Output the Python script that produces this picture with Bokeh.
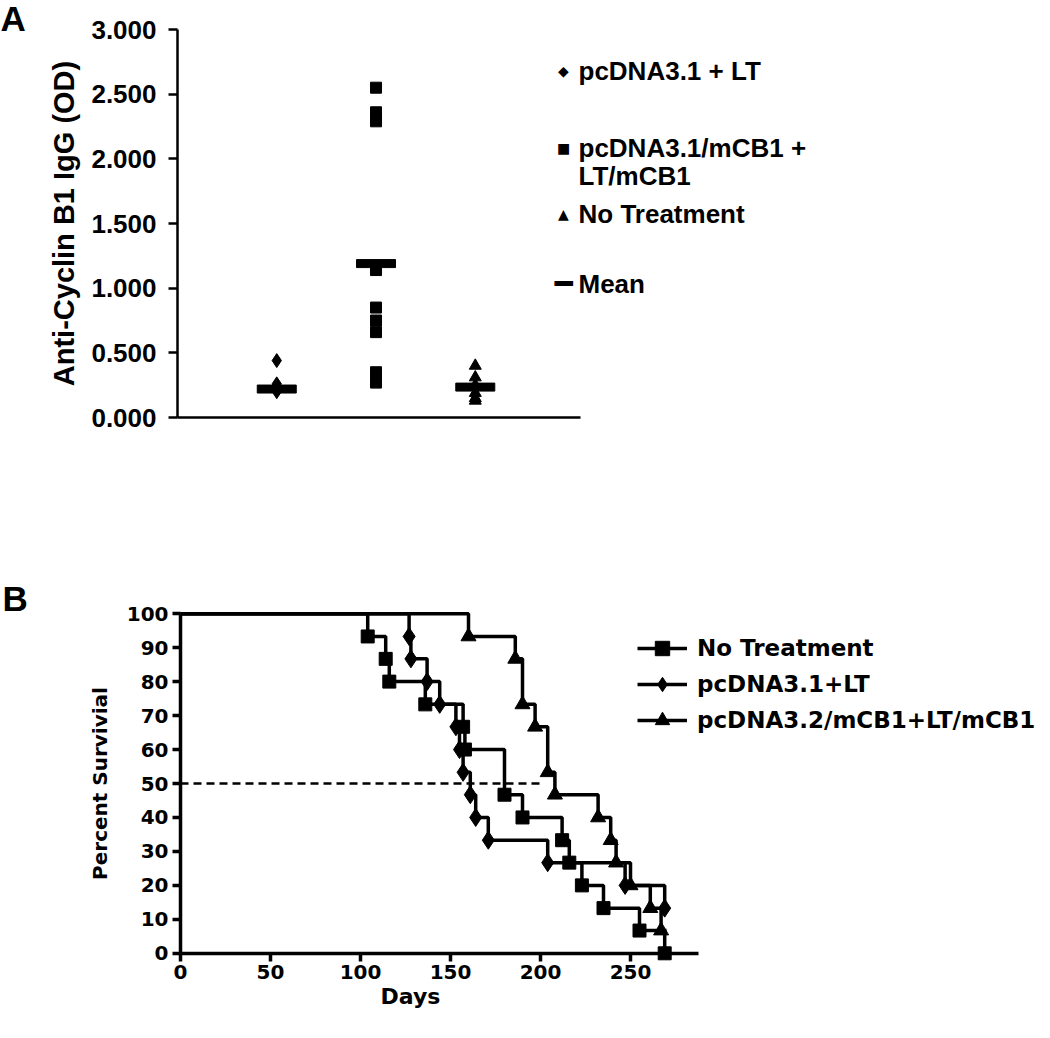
from bokeh.plotting import figure
from bokeh.layouts import column
from bokeh.models import Range1d, FixedTicker, Label, Legend, LegendItem, PrintfTickFormatter
from bokeh.embed import file_html
from bokeh.resources import INLINE

# ---------------- Panel A data ----------------
group_pos = [1, 2, 3]
od_lt = [0.44, 0.26, 0.23, 0.21, 0.20]
od_mcb1 = [2.55, 2.36, 2.29, 1.14, 0.85, 0.75, 0.66, 0.35, 0.27]
od_none = [0.40, 0.31, 0.25, 0.19, 0.15, 0.13]
od_means = [0.22, 1.19, 0.235]
a_yticks = [0.0, 0.5, 1.0, 1.5, 2.0, 2.5, 3.0]
a_legend = ["pcDNA3.1 + LT", "pcDNA3.1/mCB1 +", "LT/mCB1", "No Treatment", "Mean"]

# ---------------- Panel B data ----------------
days_none = [104, 114, 116, 136, 157, 158, 180, 190, 212, 216, 223, 235, 255, 269]
surv_none = [93.3, 86.7, 80.0, 73.3, 66.7, 60.0, 46.7, 40.0, 33.3, 26.7, 20.0, 13.3, 6.7, 0.0]
days_lt = [127, 128, 137, 144, 153, 155, 157, 161, 164, 171, 204, 247, 269]
surv_lt = [93.3, 86.7, 80.0, 73.3, 66.7, 60.0, 53.3, 46.7, 40.0, 33.3, 26.7, 20.0, 13.3]
days_mcb1 = [160, 186, 190, 197, 204, 208, 232, 239, 242, 250, 261, 267]
surv_mcb1 = [93.3, 86.7, 73.3, 66.7, 53.3, 46.7, 40.0, 33.3, 26.7, 20.0, 13.3, 6.7]
end_day = 270
b_xticks = [0, 50, 100, 150, 200, 250]
b_yticks = [0, 10, 20, 30, 40, 50, 60, 70, 80, 90, 100]
b_names = ["No Treatment", "pcDNA3.1+LT", "pcDNA3.2/mCB1+LT/mCB1"]

FONT = "Liberation Sans"
FONT_B = "DejaVu Sans"
W = 1040
HA = 520
HB = 510

# ================= Panel A =================
A_X0, A_PXU = 177.0, 403 / 4.06
A_Y0, A_PYU = 417.0, 388 / 3.0
def ax_(px):
    return (px - A_X0) / A_PXU
def ay_(py):
    return (A_Y0 - py) / A_PYU

pa = figure(width=W, height=HA, output_backend="svg", toolbar_location=None, min_border=0,
            x_range=Range1d(ax_(0), ax_(W)), y_range=Range1d(ay_(HA), ay_(0)))
pa.outline_line_color = None
pa.grid.visible = False

pa.xaxis.fixed_location = 0
pa.yaxis.fixed_location = 0
pa.xaxis.bounds = (0, 4.06)
pa.yaxis.bounds = (0, 3.0)
pa.yaxis.ticker = FixedTicker(ticks=a_yticks)
pa.yaxis.formatter = PrintfTickFormatter(format="%.3f")
pa.yaxis.axis_label = "Anti-Cyclin B1 IgG (OD)"
pa.xaxis.ticker = FixedTicker(ticks=[])
for ax in (pa.xaxis, pa.yaxis):
    ax.axis_line_width = 2.5
    ax.axis_line_color = "black"
    ax.major_tick_line_width = 2.5
    ax.major_tick_out = 9
    ax.major_tick_in = 0
    ax.minor_tick_line_color = None
    ax.major_label_text_font = FONT
    ax.major_label_text_font_style = "bold"
    ax.major_label_text_font_size = "26px"
    ax.major_label_text_color = "black"
    ax.axis_label_text_font = FONT
    ax.axis_label_text_font_style = "bold"
    ax.axis_label_text_font_size = "29px"
    ax.axis_label_text_color = "black"
pa.yaxis.major_label_standoff = 12
pa.yaxis.axis_label_standoff = 8

pa.scatter([group_pos[0]] * len(od_lt), od_lt, marker="diamond", size=14, color="black")
pa.scatter([group_pos[1]] * len(od_mcb1), od_mcb1, marker="square", size=11, color="black")
pa.scatter([group_pos[2]] * len(od_none), od_none, marker="triangle", size=12, color="black")
pa.rect(group_pos, od_means, width=39, height=8, width_units="screen", height_units="screen",
        color="black")

rows_y = [70, 147, 175, 213, 283]
marks = ["\u25C6", "\u25A0", "", "\u25B2", "\u2501"]
for txt, mk, yy in zip(a_legend, marks, rows_y):
    pa.add_layout(Label(x=ax_(578), y=ay_(yy), text=txt, text_font=FONT, text_font_style="bold",
                        text_font_size="26px", text_baseline="middle", text_align="left",
                        text_color="black"))
    if mk:
        pa.add_layout(Label(x=ax_(563), y=ay_(yy), text=mk, text_font="DejaVu Sans",
                            text_font_size="14px" if mk != "\u2501" else "30px",
                            text_baseline="middle", text_align="center", text_color="black"))
pa.add_layout(Label(x=ax_(0), y=ay_(-2), text="A", text_font=FONT, text_font_style="bold",
                    text_font_size="35px", text_baseline="top", text_align="left", text_color="black"))

# ================= Panel B =================
B_X0, B_PXU = 180.0, 1.8
B_Y0, B_PYU = 952.8 - HA, 3.396
def bx_(px):
    return (px - B_X0) / B_PXU
def by_(py):
    return (B_Y0 - py) / B_PYU

pb = figure(width=W, height=HB, output_backend="svg", toolbar_location=None, min_border=0,
            x_range=Range1d(bx_(0), bx_(W)), y_range=Range1d(by_(HB), by_(0)))
pb.outline_line_color = None
pb.grid.visible = False

pb.xaxis.fixed_location = 0
pb.yaxis.fixed_location = 0
pb.xaxis.bounds = (0, 288)
pb.yaxis.bounds = (0, 100)
pb.xaxis.ticker = FixedTicker(ticks=b_xticks)
pb.yaxis.ticker = FixedTicker(ticks=b_yticks)
pb.yaxis.axis_label = "Percent Survivial"
for ax in (pb.xaxis, pb.yaxis):
    ax.axis_line_width = 3.5
    ax.axis_line_color = "black"
    ax.major_tick_line_width = 3.5
    ax.major_tick_out = 8
    ax.major_tick_in = 0
    ax.minor_tick_line_color = None
    ax.major_label_text_font = FONT_B
    ax.major_label_text_font_style = "bold"
    ax.major_label_text_font_size = "20px"
    ax.major_label_text_color = "black"
    ax.axis_label_text_font = FONT_B
    ax.axis_label_text_font_style = "bold"
    ax.axis_label_text_font_size = "20px"
    ax.axis_label_text_color = "black"
pb.yaxis.major_label_standoff = 4
pb.yaxis.axis_label_standoff = 12
pb.xaxis.major_label_standoff = 4

# x-axis title
pb.add_layout(Label(x=bx_(410), y=by_(996 - HA), text="Days", text_font=FONT_B,
                    text_font_style="bold", text_font_size="22px", text_baseline="middle",
                    text_align="center", text_color="black"))

# 50% reference line
pb.line([0, 202], [50, 50], line_dash="8 5", line_width=2.5, color="black")

def km(days, surv):
    xs = [0] + list(days) + [end_day]
    ys = [100.0] + list(surv) + [surv[-1]]
    return xs, ys

xs, ys = km(days_none, surv_none)
l1 = pb.step(xs, ys, mode="after", line_width=3.5, color="black")
s1 = pb.scatter(days_none, surv_none, marker="square", size=13, color="black")
xs, ys = km(days_lt, surv_lt)
l2 = pb.step(xs, ys, mode="after", line_width=3.5, color="black")
s2 = pb.scatter(days_lt, surv_lt, marker="diamond", size=18, color="black")
xs, ys = km(days_mcb1, surv_mcb1)
l3 = pb.step(xs, ys, mode="after", line_width=3.5, color="black")
s3 = pb.scatter(days_mcb1, surv_mcb1, marker="triangle", size=15, color="black")

ROW_H = 36
legend = Legend(items=[LegendItem(label=b_names[0], renderers=[l1, s1]),
                       LegendItem(label=b_names[1], renderers=[l2, s2]),
                       LegendItem(label=b_names[2], renderers=[l3, s3])],
                location=(637, HB - (648 - HA) - ROW_H / 2 - 2 * ROW_H))
legend.glyph_width = 50
legend.glyph_height = ROW_H
legend.label_height = ROW_H
legend.spacing = 0
legend.padding = 0
legend.margin = 0
legend.label_standoff = 10
legend.border_line_color = None
legend.background_fill_alpha = 0
legend.label_text_font = FONT_B
legend.label_text_font_style = "bold"
legend.label_text_font_size = "23px"
legend.label_text_color = "black"
pb.add_layout(legend, "center")

pb.add_layout(Label(x=bx_(2), y=by_(578 - HA), text="B", text_font=FONT, text_font_style="bold",
                    text_font_size="35px", text_baseline="top", text_align="left", text_color="black"))

layout = column(pa, pb, spacing=0)
open("out.html", "w").write(file_html(layout, INLINE))
